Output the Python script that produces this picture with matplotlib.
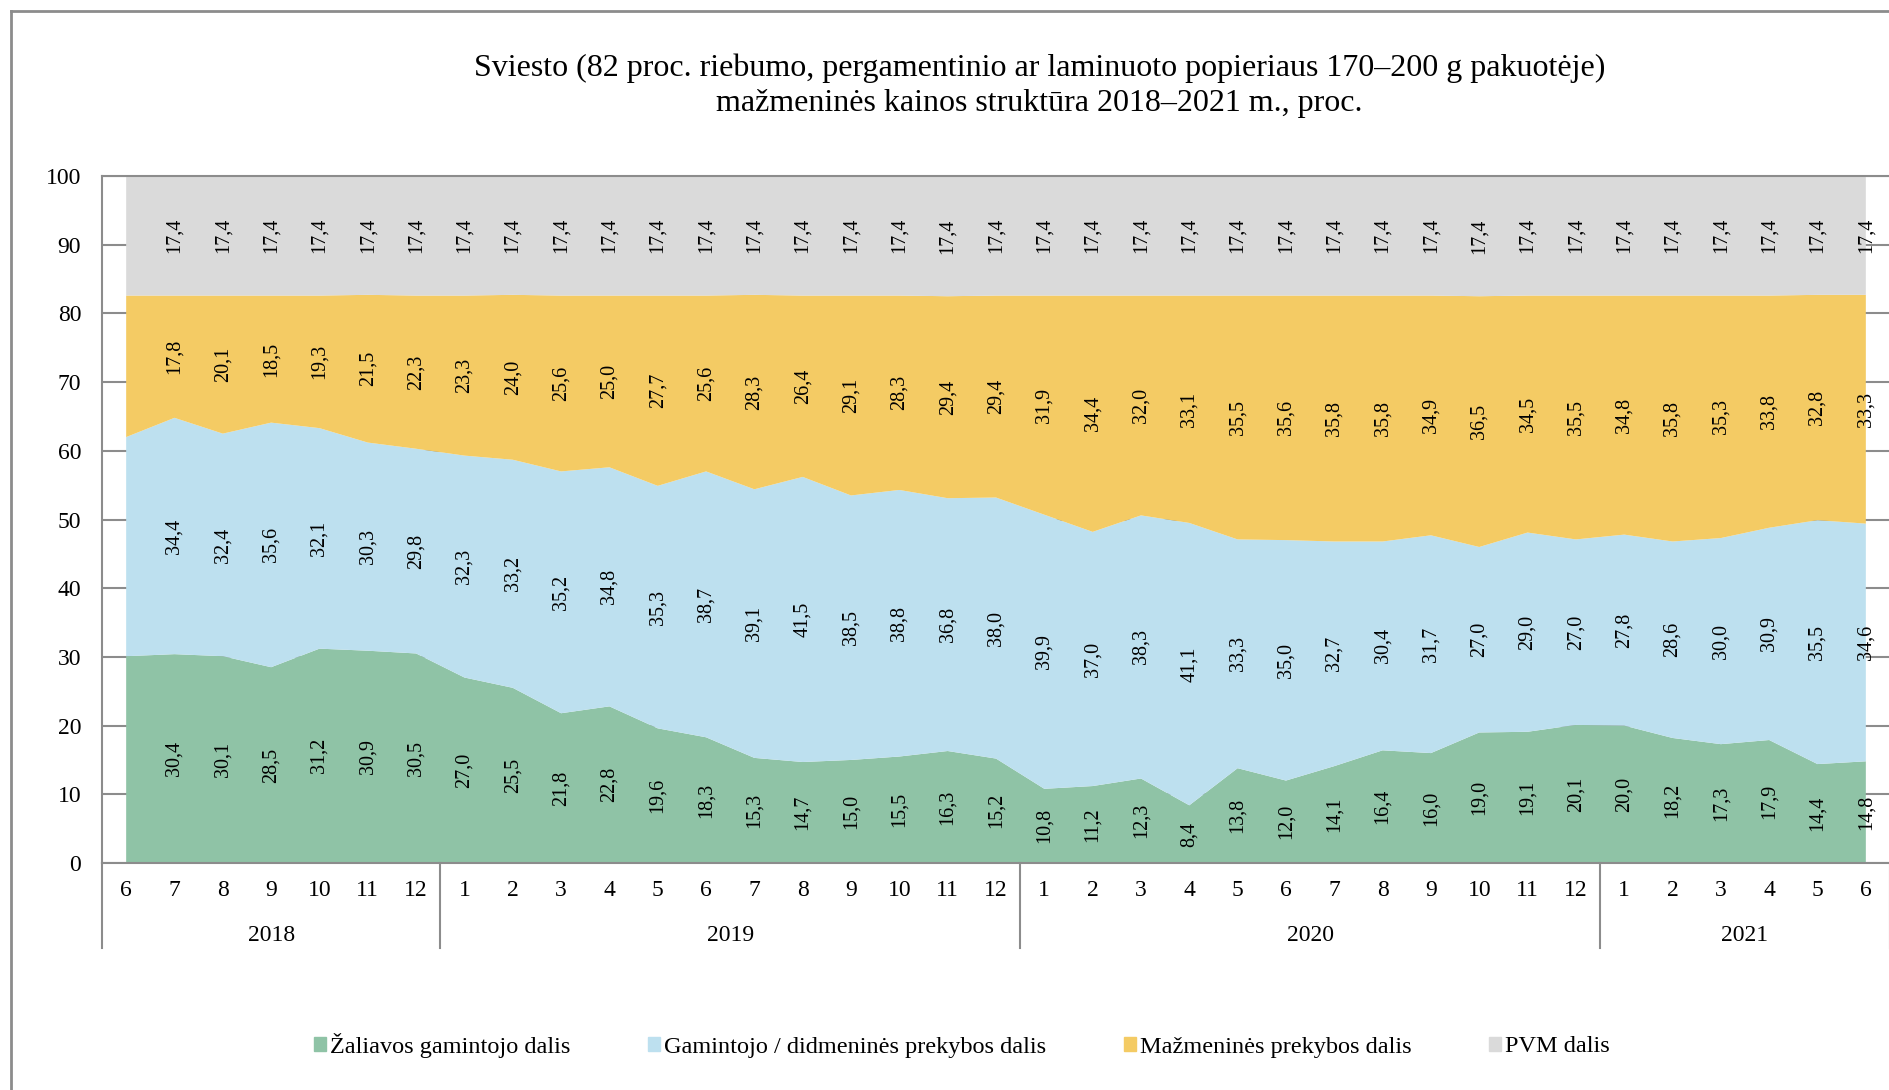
import numpy as np
import matplotlib
matplotlib.use("Agg")
import matplotlib.pyplot as plt
from matplotlib.lines import Line2D
from matplotlib.patches import Patch

plt.rcParams['font.family'] = ['Liberation Serif', 'DejaVu Serif']

# mėnesiai ir metai
months = ['6', '7', '8', '9', '10', '11', '12',
          '1', '2', '3', '4', '5', '6', '7', '8', '9', '10', '11', '12',
          '1', '2', '3', '4', '5', '6', '7', '8', '9', '10', '11', '12',
          '1', '2', '3', '4', '5', '6']
years = ['2018', '2019', '2020', '2021']
year_sizes = [7, 12, 12, 6]

# kainos struktūra, proc. (pirmas mėnuo be reikšmių etikečių)
zaliavos = [30.1, 30.4, 30.1, 28.5, 31.2, 30.9, 30.5,
            27.0, 25.5, 21.8, 22.8, 19.6, 18.3, 15.3, 14.7, 15.0, 15.5, 16.3, 15.2,
            10.8, 11.2, 12.3, 8.4, 13.8, 12.0, 14.1, 16.4, 16.0, 19.0, 19.1, 20.1,
            20.0, 18.2, 17.3, 17.9, 14.4, 14.8]
gamintojo = [31.9, 34.4, 32.4, 35.6, 32.1, 30.3, 29.8,
             32.3, 33.2, 35.2, 34.8, 35.3, 38.7, 39.1, 41.5, 38.5, 38.8, 36.8, 38.0,
             39.9, 37.0, 38.3, 41.1, 33.3, 35.0, 32.7, 30.4, 31.7, 27.0, 29.0, 27.0,
             27.8, 28.6, 30.0, 30.9, 35.5, 34.6]
mazmenines = [20.6, 17.8, 20.1, 18.5, 19.3, 21.5, 22.3,
              23.3, 24.0, 25.6, 25.0, 27.7, 25.6, 28.3, 26.4, 29.1, 28.3, 29.4, 29.4,
              31.9, 34.4, 32.0, 33.1, 35.5, 35.6, 35.8, 35.8, 34.9, 36.5, 34.5, 35.5,
              34.8, 35.8, 35.3, 33.8, 32.8, 33.3]
pvm = [17.4] * 37

names = ['Žaliavos gamintojo dalis', 'Gamintojo / didmeninės prekybos dalis',
         'Mažmeninės prekybos dalis', 'PVM dalis']
colors = ['#8fc3a6', '#bde0ef', '#f4cb64', '#dadada']
grey = '#8c8c8c'

W, H = 1890, 1090
fig = plt.figure(figsize=(W / 100, H / 100), dpi=100)
ax = fig.add_axes([102 / W, 1 - 863 / H, (1890 - 102) / W, (863 - 176) / H])

x = np.arange(len(months))
series = [zaliavos, gamintojo, mazmenines, pvm]
ax.stackplot(x, *series, colors=colors, linewidth=0)

ax.set_xlim(-0.5, len(months) - 0.5)
ax.set_ylim(0, 100)
ax.set_yticks(range(0, 101, 10))
ax.yaxis.grid(True, color=grey, lw=1.5)
ax.set_axisbelow(True)
ax.tick_params(axis='y', length=0, pad=15, labelsize=17)
ax.set_xticks(x, months)
ax.tick_params(axis='x', length=0, pad=12, labelsize=17)
for s in ['left', 'bottom', 'top']:
    ax.spines[s].set_color(grey)
    ax.spines[s].set_linewidth(1.5)
ax.spines['right'].set_visible(False)

# reikšmių etiketės
bottom = np.zeros(len(months))
for vals in series:
    vals = np.array(vals)
    for i in range(1, len(months)):
        ax.text(i, bottom[i] + vals[i] / 2, f"{vals[i]:.1f}".replace('.', ','),
                rotation=90, ha='center', va='center', fontsize=14.5)
    bottom += vals

# metų grupės
trans = ax.get_xaxis_transform()
start = -0.5
ax.plot([start, start], [0, -0.124], color=grey, lw=1.5, transform=trans, clip_on=False)
for yr, n in zip(years, year_sizes):
    end = start + n
    ax.plot([end, end], [0, -0.124], color=grey, lw=1.5, transform=trans, clip_on=False)
    ax.text((start + end) / 2, -0.105, yr, ha='center', va='center',
            fontsize=17, transform=trans)
    start = end

fig.text(0.55, 1 - 68 / H,
         'Sviesto (82 proc. riebumo, pergamentinio ar laminuoto popieriaus 170–200 g pakuotėje)',
         ha='center', va='center', fontsize=23)
fig.text(0.55, 1 - 104 / H, 'mažmeninės kainos struktūra 2018–2021 m., proc.',
         ha='center', va='center', fontsize=23)

handles = [Patch(color=c) for c in colors]
fig.legend(handles, names, loc='center', bbox_to_anchor=(962 / W, 1 - 1045 / H),
           ncol=4, frameon=False, fontsize=17.5, handlelength=0.5, handleheight=0.5,
           handletextpad=0.15, columnspacing=3.2)

# rėmelis
fig.add_artist(Line2D([11 / W, 11 / W], [0, 1 - 11 / H], color=grey, lw=2))
fig.add_artist(Line2D([11 / W, 1], [1 - 11 / H, 1 - 11 / H], color=grey, lw=2))

fig.savefig('out.png', dpi=100)
